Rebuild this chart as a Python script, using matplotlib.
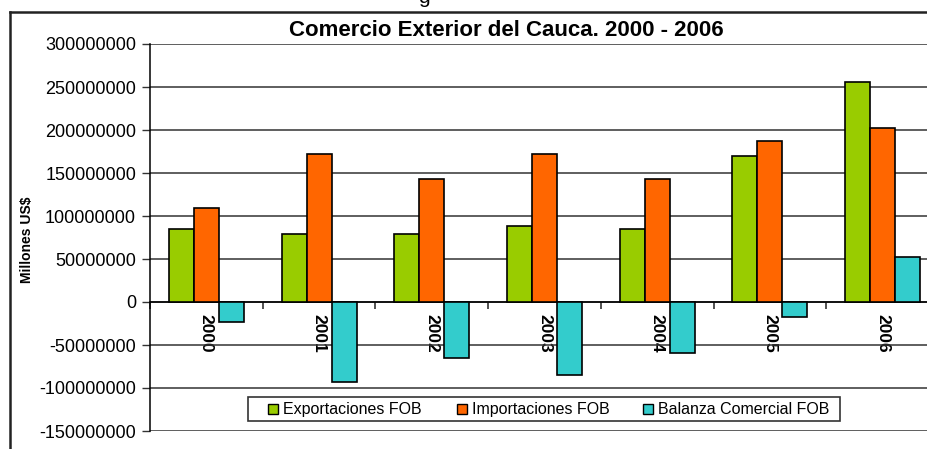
import matplotlib
matplotlib.use("Agg")
import matplotlib.pyplot as plt
from matplotlib.lines import Line2D
from matplotlib.patches import Rectangle
import numpy as np

plt.rcParams["font.family"] = ["Liberation Sans", "DejaVu Sans"]

# datos (millones US$ segun el eje original)
years = ["2000", "2001", "2002", "2003", "2004", "2005", "2006"]
exportaciones = [85e6, 79.5e6, 79.5e6, 88.7e6, 85e6, 170e6, 255.5e6]
importaciones = [109e6, 172.5e6, 143e6, 172.5e6, 143e6, 187e6, 202e6]
balanza = [-23.6e6, -93.4e6, -65e6, -84.5e6, -59e6, -17.8e6, 52.7e6]
series_names = ["Exportaciones FOB", "Importaciones FOB", "Balanza Comercial FOB"]
colors = ["#99CC00", "#FF6600", "#33CCCC"]
yticks = np.arange(-150e6, 300e6 + 1, 50e6)

W, H = 927, 449
fig = plt.figure(figsize=(W / 100, H / 100), dpi=100)
ax = fig.add_axes([150 / W, 1 - 431 / H, 789 / W, 387 / H])

x = np.arange(len(years))
w = 0.222
for i, (vals, c) in enumerate(zip([exportaciones, importaciones, balanza], colors)):
    ax.bar(x + (i - 1) * w, vals, width=w, color=c, edgecolor="black",
           linewidth=1.2, zorder=3)

ax.set_xlim(-0.5, len(years) - 0.5)
ax.set_ylim(yticks[0], yticks[-1])
ax.set_yticks(yticks)
ax.set_yticklabels(["%d" % v for v in yticks], fontsize=13)
ax.yaxis.grid(True, color="#333333", linewidth=1.1, zorder=0)
ax.tick_params(axis="y", length=6, width=1, color="#333333", pad=4)

# eje de categorias sobre el cero
ax.spines["bottom"].set_position(("data", 0))
ax.spines["bottom"].set_linewidth(1.1)
ax.spines["top"].set_visible(False)
ax.spines["right"].set_visible(False)
ax.spines["left"].set_linewidth(1.1)
ax.set_xticks(x)
ax.set_xticklabels(years, rotation=-90, fontweight="bold", fontsize=12.5, va="top")
ax.set_xticks(np.arange(-0.5, len(years), 1), minor=True)
ax.tick_params(axis="x", which="major", length=0, pad=8.5)
ax.tick_params(axis="x", which="minor", length=5, width=1.2, color="#333333")

fig.text(27 / W, 1 - 240 / H, "Millones US$", rotation=90, fontsize=10,
         fontweight="bold", ha="center", va="center")
fig.text(506 / W, 1 - 30 / H, "Comercio Exterior del Cauca. 2000 - 2006",
         fontsize=16, fontweight="bold", ha="center", va="center")
fig.text(424 / W, 1 - 3 / H, "g", fontsize=15, ha="center", va="baseline")

# marco del grafico
fig.add_artist(Line2D([10 / W, 1], [1 - 12 / H, 1 - 12 / H], color="#222222",
                      linewidth=1.8, transform=fig.transFigure))
fig.add_artist(Line2D([10 / W, 10 / W], [0, 1 - 12 / H], color="#222222",
                      linewidth=1.8, transform=fig.transFigure))

# leyenda dibujada a mano (marco, cuadritos y textos)
fig.add_artist(Rectangle((248 / W, 1 - 421 / H), 592 / W, 24 / H, facecolor="white",
                         edgecolor="#333333", linewidth=1.2,
                         transform=fig.transFigure, zorder=4))
leg_x = [268, 457, 643]
for lx, name, c in zip(leg_x, series_names, colors):
    fig.add_artist(Rectangle((lx / W, 1 - 413.5 / H), 10 / W, 9.5 / H, facecolor=c,
                             edgecolor="black", linewidth=1,
                             transform=fig.transFigure, zorder=5))
    fig.text((lx + 15) / W, 1 - 414 / H, name, fontsize=11.5, ha="left",
             va="baseline", zorder=5)

fig.savefig("out.png", dpi=100)
